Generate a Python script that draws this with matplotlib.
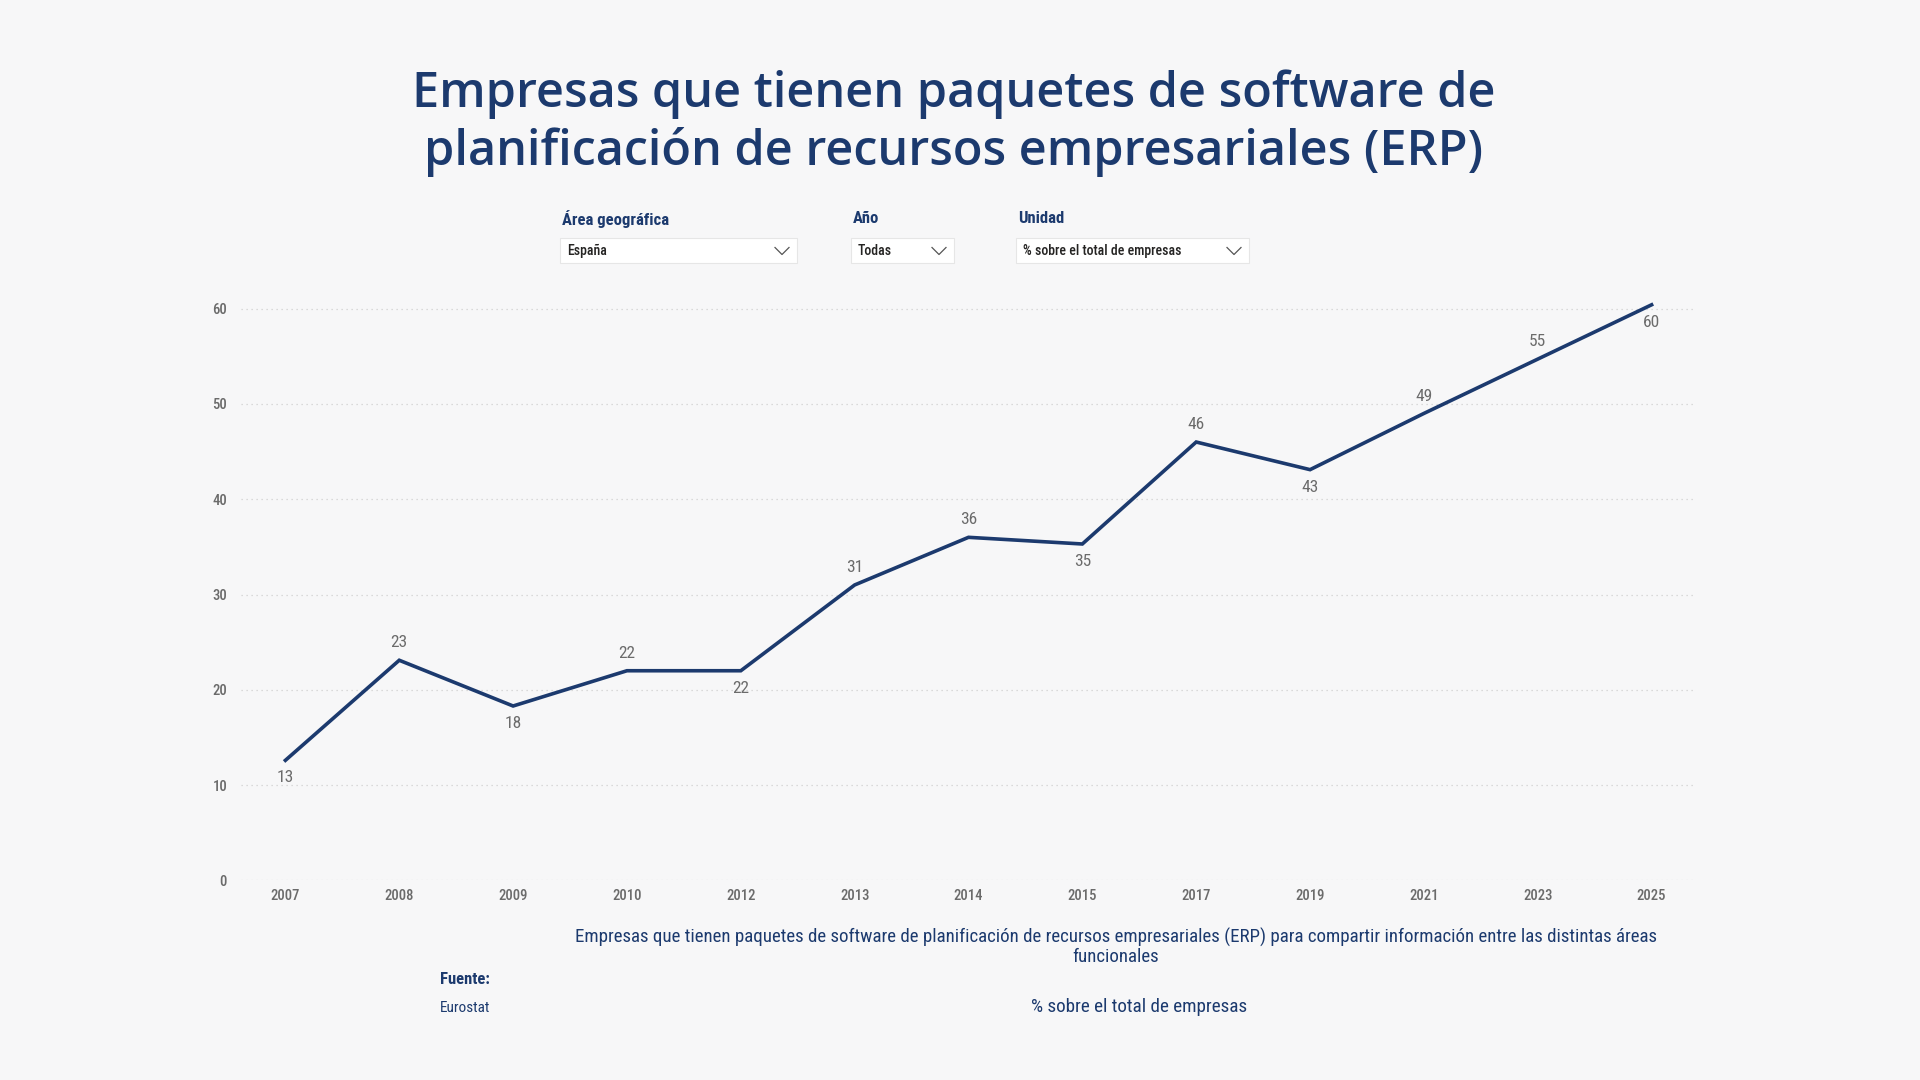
import matplotlib
matplotlib.use('Agg')
import matplotlib.pyplot as plt
from matplotlib.patches import Rectangle

# data
years = ['2007', '2008', '2009', '2010', '2012', '2013', '2014',
         '2015', '2017', '2019', '2021', '2023', '2025']
values = [12.6, 23.1, 18.3, 22.0, 22.0, 31.0, 36.0, 35.3, 46.0, 43.1, 49.0, 54.7, 60.4]
labels = ['13', '23', '18', '22', '22', '31', '36', '35', '46', '43', '49', '55', '60']
above = [False, True, False, True, False, True, True, False, True, False, True, True, False]
yticks = [0, 10, 20, 30, 40, 50, 60]

title = ('Empresas que tienen paquetes de software de\n'
         'planificación de recursos empresariales (ERP)')
footer = ('Empresas que tienen paquetes de software de planificación de recursos empresariales (ERP) '
          'para compartir información entre las distintas áreas\nfuncionales')
unit = '% sobre el total de empresas'

W, H = 1920, 1080
BG = '#F7F7F8'
NAVY = '#1C3A6E'
GRAY = '#6B6B6B'
COND = ['Roboto Condensed', 'Roboto', 'DejaVu Sans']

def fx(x):
    return x / W

def fy(y):
    return 1 - y / H

fig = plt.figure(figsize=(19.2, 10.8), dpi=100, facecolor=BG)

# plot area
ax = fig.add_axes([fx(241), fy(880.4), fx(1696) - fx(241), (880.4 - 290) / H])
ax.set_facecolor(BG)
ymax = (880.4 - 290) / 9.53
ax.set_ylim(0, ymax)
ax.set_xlim(-0.39, len(years) - 1 + 0.39)
x = list(range(len(years)))
ax.plot(x, values, color=NAVY, lw=2.6, solid_joinstyle='miter', zorder=3)

for i, (v, lab, up) in enumerate(zip(values, labels, above)):
    ax.annotate(lab, (i, v), xytext=(0, 12.5 if up else -12.5), textcoords='offset points',
                ha='center', va='center', fontsize=12.5, color=GRAY, family=COND)

ax.set_yticks(yticks)
ax.set_xticks(x)
ax.set_xticklabels(years)
ax.tick_params(length=0, labelsize=10.5, colors=GRAY, pad=6)
ax.tick_params(axis='y', pad=10)
for t in ax.get_xticklabels() + ax.get_yticklabels():
    t.set_family(COND)
    t.set_fontweight('medium')
ax.grid(axis='y', color='#D0D0D0', lw=0.9, ls=(0, (1, 3)))
ax.set_axisbelow(True)
for s in ax.spines.values():
    s.set_visible(False)

# title
fig.text(fx(954), fy(123), title, ha='center', va='center', fontsize=35, color=NAVY,
         family='Open Sans', fontweight='semibold', linespacing=1.2)

# filter dropdowns
filters = [('Área geográfica', 'España', 560, 797),
           ('Año', 'Todas', 851, 954),
           ('Unidad', '% sobre el total de empresas', 1016, 1249)]
for head, val, x0, x1 in filters:
    fig.text(fx(x0 + 2), fy(219), head, ha='left', va='center', fontsize=12,
             color=NAVY, family=COND, fontweight='bold')
    fig.patches.append(Rectangle((fx(x0), fy(263)), fx(x1 - x0), 25 / H,
                                 transform=fig.transFigure, facecolor='white',
                                 edgecolor='#E6E6E6', lw=0.8))
    fig.text(fx(x0 + 7), fy(250.5), val, ha='left', va='center', fontsize=10,
             color='#252423', family=COND, fontweight='medium')
    cx, cy = x1 - 15, 251
    fig.lines.append(plt.Line2D([fx(cx - 7), fx(cx), fx(cx + 7)], [fy(cy - 3.5), fy(cy + 3.5), fy(cy - 3.5)],
                                transform=fig.transFigure, color='#555555', lw=0.9))

# footer
fig.text(fx(1116), fy(947), footer, ha='center', va='center', fontsize=13.6,
         color=NAVY, family=COND, linespacing=1.05)
fig.text(fx(440), fy(980), 'Fuente:', ha='left', va='center', fontsize=12,
         color=NAVY, family=COND, fontweight='bold')
fig.text(fx(440), fy(1008), 'Eurostat', ha='left', va='center', fontsize=11,
         color=NAVY, family=COND)
fig.text(fx(1139), fy(1007), unit, ha='center', va='center', fontsize=13.8,
         color=NAVY, family=COND)

fig.savefig('out.png', dpi=100, facecolor=BG)
